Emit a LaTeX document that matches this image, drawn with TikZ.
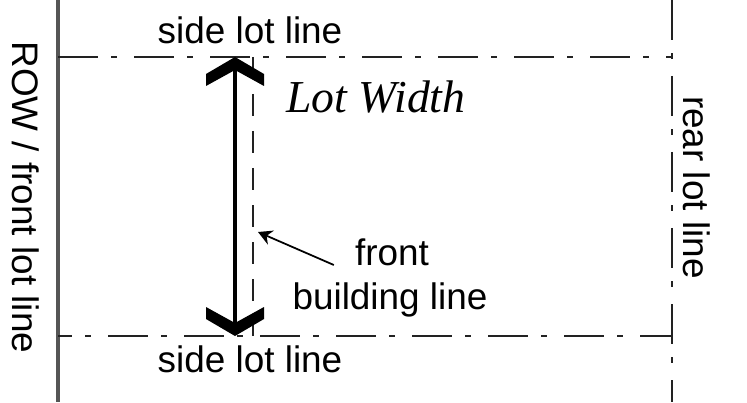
\documentclass[tikz,border=0pt]{standalone}
\usepackage{fontspec}
\setmainfont{Liberation Sans}
\newfontfamily\serifit{Liberation Serif}
\usetikzlibrary{arrows.meta, calc}
\definecolor{cRow}{HTML}{555555}
\definecolor{cLot}{HTML}{222222}
\tikzset{
  rowline/.style={draw=cRow, line width=2.6pt},
  lotline/.style={draw=cLot, line width=2.2pt,
                  dash pattern=on 1.2cm off 0.4cm on 0.18cm off 0.5cm},
  bldline/.style={draw=cLot, line width=1.6pt, dash pattern=on 0.66cm off 0.45cm},
  dimarr/.style={draw=black, line width=4.2pt},
  leader/.style={-{Stealth[length=12pt,width=13pt,inset=4pt]}, draw=black, line width=1.5pt},
  lbl/.style={font=\fontsize{31.5}{37}\selectfont, inner sep=0pt},
  chevron/.pic={
    \fill (0,0) -- (0.87,-0.51) -- (0.87,-0.87) -- (0,-0.39)
          -- (-0.87,-0.87) -- (-0.87,-0.51) -- cycle;
  },
}

\begin{document}
\begin{tikzpicture}
\useasboundingbox (0,0) rectangle (22.41,12.06);

% ── Levels ────────────────────────────────────────────────────────────────────
\def\xrow{1.74}
\def\xrear{20.16}
\def\xdim{7.05}
\def\xbld{7.59}
\def\ytop{10.35}
\def\ybot{1.98}

% ── Lot lines ─────────────────────────────────────────────────────────────────
\coordinate (rowtop)  at (\xrow, 12.06);
\coordinate (rowbot)  at (\xrow, 0);
\coordinate (reartop) at (\xrear, 12.06);
\coordinate (rearbot) at (\xrear, 0);
\coordinate (sidetl)  at (\xrow, \ytop);
\coordinate (sidetr)  at (\xrear, \ytop);
\coordinate (sidebl)  at (\xrow, \ybot);
\coordinate (sidebr)  at (\xrear, \ybot);

\draw[rowline] (rowtop) -- (rowbot);
\draw[lotline] (reartop) -- (rearbot);
\draw[lotline] (sidetl) -- (sidetr);
\draw[lotline, dash phase=0.78cm] (sidebl) -- (sidebr);

% front building line
\coordinate (bldtop) at (\xbld, \ytop);
\coordinate (bldbot) at (\xbld, \ybot);
\draw[bldline] (bldtop) -- (bldbot);

% ── Lot width arrow ───────────────────────────────────────────────────────────
\coordinate (wtop) at (\xdim, \ytop);
\coordinate (wbot) at (\xdim, \ybot);
\draw[dimarr] ([yshift=-0.3cm]wtop) -- ([yshift=0.3cm]wbot);
\pic at (wtop) {chevron};
\pic[rotate=180] at (wbot) {chevron};

% ── Labels ────────────────────────────────────────────────────────────────────
\node[lbl, anchor=base] (sidetxt1) at (7.5, 10.74) {side lot line};
\node[lbl, anchor=base] (sidetxt2) at (7.5, 0.9) {side lot line};
\node[lbl, rotate=-90, anchor=base] (rowtxt) at (0.36, 6.14) {ROW / front lot line};
\node[lbl, rotate=-90, anchor=base] (reartxt) at (20.49, 6.44) {rear lot line};
\node[lbl, anchor=base, font=\serifit\itshape\fontsize{39}{45}\selectfont]
  (lotw) at (11.28, 8.67) {Lot Width};

\node[lbl, anchor=base] (front) at (11.76, 4.11) {front};
\node[lbl, anchor=base] (bldtxt) at (11.7, 2.78) {building line};

% leader to building line
\coordinate (bldpt) at (7.74, 5.1);
\draw[leader] ([xshift=-0.63cm]front.base west) -- (bldpt);

\end{tikzpicture}
\end{document}
